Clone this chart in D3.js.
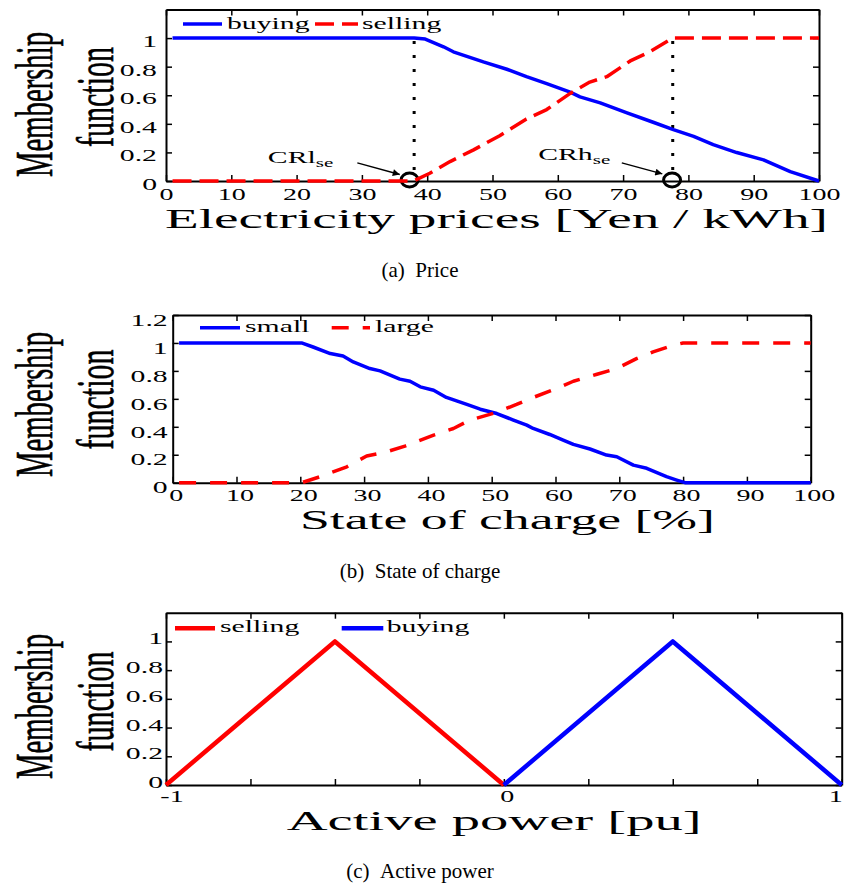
<!DOCTYPE html>
<html>
<head>
<meta charset="utf-8">
<script src="https://cdnjs.cloudflare.com/ajax/libs/d3/7.8.5/d3.min.js"></script>
<style>
  body { margin: 0; background: #fff; }
  svg { display: block; }
  text { font-family: "Liberation Serif", "Times New Roman", serif; fill: #000; }
</style>
</head>
<body>
<div id="chart"></div>
<script>
const width = 845, height = 885;
const SX = 1.75; // the original figure is stretched sideways, text too

// (a) price membership
const priceTicks = [0, 10, 20, 30, 40, 50, 60, 70, 80, 90, 100];
const buyPriceX = [1, 38, 39.7, 42.5, 44, 48.6, 52.2, 55.2, 58.3, 61.9, 63.4, 66.5, 70.6, 74.6, 77.7, 80.8, 83.8, 87.4, 91.5, 95.6, 100];
const buyPriceY = [1, 1, 0.993, 0.939, 0.904, 0.833, 0.782, 0.730, 0.681, 0.622, 0.589, 0.547, 0.477, 0.411, 0.359, 0.312, 0.254, 0.199, 0.148, 0.066, 0];
const sellPriceX = [1, 37.9, 40.4, 43.5, 47.1, 51.1, 55.2, 58.3, 61.9, 64.9, 67.5, 71.1, 74.1, 77.6, 100];
const sellPriceY = [0, 0, 0.054, 0.136, 0.218, 0.317, 0.434, 0.5, 0.613, 0.692, 0.730, 0.840, 0.904, 1, 1];
const crLines = [38, 77.6];     // dotted verticals
const crCircles = [37.3, 77.5]; // circled points on the x axis
const crLabels = [
  { name: "CRl", sub: "se", x: 15.6, y: 0.127, ax0: 29.3, ay0: 0.127, ax1: 35.8, ay1: 0.045 },
  { name: "CRh", sub: "se", x: 57.0, y: 0.148, ax0: 69.8, ay0: 0.127, ax1: 76.0, ay1: 0.05 }
];

// (b) state of charge membership
const socTicks = [0, 10, 20, 30, 40, 50, 60, 70, 80, 90, 100];
const smallX = [1, 20.2, 22.0, 24.7, 26.7, 28.3, 30.9, 32.5, 35.6, 37.2, 38.8, 40.9, 42.9, 46.1, 48.2, 50.8, 53.4, 55.5, 56.5, 59.1, 61.2, 62.8, 65.4, 68.0, 69.6, 72.2, 74.3, 77.4, 79.0, 80.3, 100];
const smallY = [1, 1, 0.971, 0.924, 0.907, 0.864, 0.817, 0.800, 0.741, 0.726, 0.686, 0.662, 0.610, 0.560, 0.526, 0.495, 0.448, 0.412, 0.388, 0.345, 0.305, 0.274, 0.241, 0.198, 0.186, 0.126, 0.103, 0.043, 0.019, 0, 0];
const largeX = [1, 20.2, 23.1, 27.3, 30.4, 33.5, 36.4, 40.9, 44.0, 46.6, 50.5, 53.9, 56.5, 60.2, 62.8, 66.5, 69.6, 72.7, 75.3, 78.5, 80.0, 100];
const largeY = [0, 0, 0.043, 0.114, 0.191, 0.221, 0.262, 0.341, 0.388, 0.448, 0.5, 0.56, 0.61, 0.674, 0.726, 0.776, 0.817, 0.888, 0.936, 0.984, 1, 1];

// (c) active power membership
const powerTicks = [-1, -0.75, -0.5, -0.25, 0, 0.25, 0.5, 0.75, 1];
const powerLabels = { "-1": "-1", "0": "0", "1": "1" };
const sellPowerX = [-1, -0.5, 0];
const sellPowerY = [0, 1, 0];
const buyPowerX = [0, 0.5, 1];
const buyPowerY = [0, 1, 0];

const yTicksA = [0, 0.2, 0.4, 0.6, 0.8, 1];
const yTicksB = [0, 0.2, 0.4, 0.6, 0.8, 1, 1.2];

const svg = d3.select("#chart")
  .append("svg")
  .attr("width", width)
  .attr("height", height);

svg.append("defs").append("marker")
  .attr("id", "arrow")
  .attr("viewBox", "0 0 10 10")
  .attr("refX", 10).attr("refY", 5)
  .attr("markerWidth", 11).attr("markerHeight", 7)
  .attr("markerUnits", "userSpaceOnUse")
  .attr("orient", "auto")
  .append("path").attr("d", "M0,0L10,5L0,10z").attr("fill", "#000");

// stretched text helper
function stext(g, x, y, str, size, anchor) {
  return g.append("text")
    .attr("x", x / SX).attr("y", y)
    .attr("transform", `scale(${SX},1)`)
    .attr("text-anchor", anchor || "start")
    .style("font-size", size + "px")
    .text(str);
}

function panel(p) {
  const x = d3.scaleLinear().domain(p.xDomain).range([p.left, p.right]);
  const y = d3.scaleLinear().domain([0, 1.2]).range([p.bottom, p.top]);
  const g = svg.append("g");

  // frame with inward ticks on all four sides
  const bottom = g.append("g").attr("transform", `translate(0,${p.bottom})`)
    .call(d3.axisBottom(x).tickValues(p.xTicks).tickFormat(p.xFormat).tickSizeInner(-6).tickSizeOuter(0));
  bottom.selectAll("text").attr("dy", null).attr("y", p.xTickY)
    .attr("x", d => p.xTickShift(d) / SX)
    .attr("transform", `scale(${SX},1)`).style("font-size", "16px");
  g.append("g").attr("transform", `translate(0,${p.top})`)
    .call(d3.axisTop(x).tickValues(p.xTicks).tickFormat("").tickSizeInner(-6).tickSizeOuter(0));
  const left = g.append("g").attr("transform", `translate(${p.left},0)`)
    .call(d3.axisLeft(y).tickValues(p.yTicks).tickFormat(d3.format("~g")).tickSizeInner(-6).tickSizeOuter(0));
  left.selectAll("text").attr("x", -p.yTickPad / SX).attr("dy", p.yTickDy)
    .attr("transform", `scale(${SX},1)`).style("font-size", "17px");
  g.append("g").attr("transform", `translate(${p.right},0)`)
    .call(d3.axisRight(y).tickValues(p.yTicks).tickFormat("").tickSizeInner(-6).tickSizeOuter(0));
  g.selectAll(".domain").attr("stroke", "#000").attr("stroke-width", 2);
  g.selectAll(".tick line").attr("stroke", "#000").attr("stroke-width", 1.5);

  const line = d3.line().x(d => x(d[0])).y(d => y(d[1]));

  if (p.extra) p.extra(g, x, y);

  p.series.forEach(s => {
    g.append("path")
      .datum(d3.zip(s.xs, s.ys))
      .attr("d", line)
      .attr("fill", "none")
      .attr("stroke", s.color)
      .attr("stroke-width", p.lineWidth)
      .attr("stroke-linejoin", "round")
      .attr("stroke-dasharray", s.dash || null);
  });

  // legend
  p.series.forEach((s, i) => {
    const lg = p.legend[i];
    g.append("line")
      .attr("x1", p.left + lg.x0).attr("x2", p.left + lg.x1)
      .attr("y1", p.top + p.legendLineY).attr("y2", p.top + p.legendLineY)
      .attr("stroke", s.color).attr("stroke-width", p.lineWidth)
      .attr("stroke-dasharray", s.dash || null);
    stext(g, p.left + lg.tx, p.top + p.legendTextY, s.name, 17);
  });

  // axis labels
  g.append("text")
    .attr("x", p.xLabel.x).attr("y", p.xLabel.y)
    .attr("text-anchor", "middle")
    .attr("textLength", p.xLabel.len).attr("lengthAdjust", "spacingAndGlyphs")
    .style("font-size", "28px")
    .text(p.xLabel.text);

  [["Membership", 52, p.yLabelY[0], 145], ["function", 113, p.yLabelY[1], 100]].forEach(([t, bx, cy, len]) => {
    g.append("text")
      .attr("transform", `translate(${bx},${cy}) scale(${SX},1) rotate(-90)`)
      .attr("text-anchor", "middle")
      .attr("textLength", len).attr("lengthAdjust", "spacingAndGlyphs")
      .attr("stroke", "#000").attr("stroke-width", 0.35)
      .style("font-size", "30px")
      .text(t);
  });

  g.append("text")
    .attr("x", 420).attr("y", p.caption.y)
    .attr("text-anchor", "middle")
    .style("font-size", "21px")
    .text(p.caption.text);
}

panel({
  left: 166, right: 819, top: 9.5, bottom: 181,
  xDomain: [0, 100], xTicks: priceTicks, xFormat: d3.format("d"), xTickY: 18.8, xTickShift: () => 0,
  yTicks: yTicksA, yTickPad: 9, yTickDy: "0.5em",
  lineWidth: 3.5,
  series: [
    { name: "buying", xs: buyPriceX, ys: buyPriceY, color: "#0000ff" },
    { name: "selling", xs: sellPriceX, ys: sellPriceY, color: "#ff0000", dash: "19,8" }
  ],
  legend: [{ x0: 17, x1: 56, tx: 61 }, { x0: 149, x1: 192, tx: 196 }],
  legendLineY: 14.5, legendTextY: 20,
  xLabel: { text: "Electricity prices [Yen / kWh]", x: 496.5, y: 228, len: 663 },
  yLabelY: [104.5, 97],
  caption: { text: "(a)\u2002Price", y: 276.5 },
  extra: (g, x, y) => {
    crLines.forEach(v => {
      g.append("line")
        .attr("x1", x(v)).attr("x2", x(v))
        .attr("y1", y(1)).attr("y2", y(0))
        .attr("stroke", "#000").attr("stroke-width", 3)
        .attr("stroke-dasharray", "3,11").attr("stroke-dashoffset", -3);
    });
    crCircles.forEach(v => {
      g.append("ellipse")
        .attr("cx", x(v)).attr("cy", y(0) - 1)
        .attr("rx", 8.5).attr("ry", 7)
        .attr("fill", "none").attr("stroke", "#000").attr("stroke-width", 3);
    });
    crLabels.forEach(c => {
      const t = stext(g, x(c.x), y(c.y), c.name, 17);
      t.append("tspan").attr("dy", 4).style("font-size", "12px").text(c.sub);
      g.append("line")
        .attr("x1", x(c.ax0)).attr("y1", y(c.ay0))
        .attr("x2", x(c.ax1)).attr("y2", y(c.ay1))
        .attr("stroke", "#000").attr("stroke-width", 1.5)
        .attr("marker-end", "url(#arrow)");
    });
  }
});

panel({
  left: 172.7, right: 810.7, top: 315, bottom: 482.7,
  xDomain: [0, 100], xTicks: socTicks, xFormat: d3.format("d"), xTickY: 18.8, xTickShift: () => 3,
  yTicks: yTicksB, yTickPad: 5, yTickDy: "0.6em",
  lineWidth: 3.5,
  series: [
    { name: "small", xs: smallX, ys: smallY, color: "#0000ff" },
    { name: "large", xs: largeX, ys: largeY, color: "#ff0000", dash: "17,14" }
  ],
  legend: [{ x0: 27.3, x1: 67.3, tx: 72.3 }, { x0: 159, x1: 197.3, tx: 202.3 }],
  legendLineY: 12.7, legendTextY: 17.3,
  xLabel: { text: "State of charge [%]", x: 507.5, y: 529, len: 415 },
  yLabelY: [404.5, 399.5],
  caption: { text: "(b)\u2002State of charge", y: 577.5 }
});

const powerShift = { "-1": 5.5, "0": 2.8, "1": -6.5 };
panel({
  left: 166, right: 841.7, top: 612.7, bottom: 785,
  xDomain: [-1, 1], xTicks: powerTicks, xFormat: d => powerLabels[String(d)] || "", xTickY: 17,
  xTickShift: d => powerShift[String(d)] || 0,
  yTicks: yTicksA, yTickPad: 3, yTickDy: "0.15em",
  lineWidth: 4.5,
  series: [
    { name: "selling", xs: sellPowerX, ys: sellPowerY, color: "#ff0000" },
    { name: "buying", xs: buyPowerX, ys: buyPowerY, color: "#0000ff" }
  ],
  legend: [{ x0: 9, x1: 49, tx: 54 }, { x0: 175.7, x1: 217.3, tx: 220.7 }],
  legendLineY: 15.6, legendTextY: 19.6,
  xLabel: { text: "Active power [pu]", x: 494.2, y: 830, len: 415 },
  yLabelY: [706.5, 701.5],
  caption: { text: "(c)\u2002Active power", y: 877.5 }
});
</script>
</body>
</html>
